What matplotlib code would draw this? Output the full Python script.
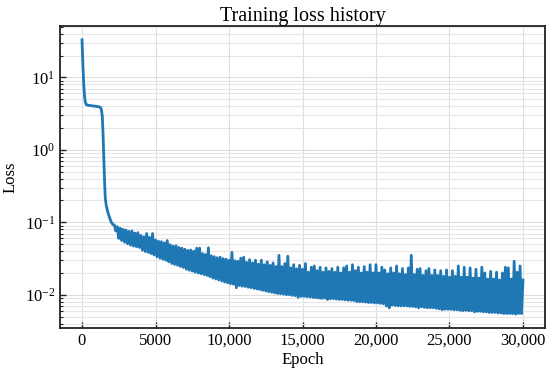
import numpy as np
import matplotlib
matplotlib.use("Agg")
import matplotlib.pyplot as plt
from matplotlib.ticker import LogLocator, NullFormatter

plt.rcParams["font.family"] = ["Liberation Serif", "DejaVu Serif"]
plt.rcParams["mathtext.fontset"] = "stix"
plt.rcParams["path.simplify"] = False

# debut de l'entrainement (descente + plateau)
early_epochs = [0, 30, 70, 120, 170, 220, 280, 350, 500, 700, 900, 1100, 1250, 1320,
                1380, 1430, 1480, 1530, 1580, 1650, 1750, 1850, 1950]
early_loss = [33, 22, 13.5, 8.0, 5.6, 4.6, 4.25, 4.15, 4.1, 4.05, 4.0, 3.95, 3.85, 3.6,
              2.9, 1.7, 0.8, 0.4, 0.22, 0.17, 0.14, 0.12, 0.105]

# bande bruitee, un point tous les 100 epochs (unites de 1e-4)
band_epochs = np.arange(2000, 30001, 100)
band_loss_e4 = [
    1000, 930, 920, 760, 870, 600, 830, 560, 800, 530,
    780, 505, 750, 485, 760, 470, 710, 460, 720, 450,
    660, 415, 630, 395, 700, 385, 620, 370, 700, 355,
    570, 335, 550, 320, 540, 310, 520, 300, 560, 285,
    490, 270, 470, 262, 475, 255, 450, 245, 440, 238,
    425, 225, 410, 218, 415, 212, 400, 205, 440, 200,
    440, 195, 370, 190, 360, 185, 445, 178, 345, 170,
    335, 165, 325, 160, 330, 155, 315, 150, 310, 146,
    300, 142, 385, 140, 295, 125, 290, 134, 320, 131,
    330, 130, 280, 127, 305, 125, 275, 122, 300, 120,
    265, 118, 300, 115, 260, 113, 285, 110, 255, 108,
    275, 106, 245, 104, 350, 103, 245, 102, 270, 100,
    340, 100, 235, 98, 260, 97, 228, 92, 255, 95,
    225, 95, 270, 94, 205, 93, 240, 92, 250, 91,
    215, 90, 240, 89, 205, 90, 235, 86, 210, 88,
    230, 88, 205, 87, 240, 86, 200, 86, 235, 85,
    250, 84, 205, 84, 260, 83, 215, 80, 240, 80,
    200, 80, 245, 79, 205, 78, 260, 78, 200, 77,
    260, 77, 200, 76, 240, 75, 220, 70, 195, 66,
    235, 72, 200, 71, 250, 70, 195, 70, 230, 70,
    190, 70, 235, 69, 350, 69, 190, 68, 225, 66,
    230, 68, 185, 67, 215, 66, 230, 66, 185, 66,
    220, 65, 185, 64, 215, 62, 180, 63, 220, 63,
    175, 63, 215, 62, 180, 62, 250, 61, 175, 60,
    240, 61, 175, 60, 235, 60, 170, 58, 225, 59,
    170, 59, 240, 58, 200, 58, 165, 57, 210, 57,
    165, 57, 205, 56, 160, 56, 200, 55, 240, 55,
    235, 55, 165, 55, 290, 54, 205, 55, 250, 55,
    160,
]

xticks = [0, 5000, 10000, 15000, 20000, 25000, 30000]
xtick_labels = ["0", "5000", "10,000", "15,000", "20,000", "25,000", "30,000"]

epochs = np.concatenate([early_epochs, band_epochs])
loss = np.concatenate([early_loss, np.array(band_loss_e4) * 1e-4])

fig = plt.figure(figsize=(5.5, 3.73), dpi=100)
ax = fig.add_axes([0.109, 0.121, 0.882, 0.809])

ax.plot(epochs, loss, color="#1f77b4", lw=2.0)
ax.set_yscale("log")

ax.set_xticks(xticks)
ax.set_xticklabels(xtick_labels)
ax.yaxis.set_minor_locator(LogLocator(base=10, subs=np.arange(2, 10)))
ax.yaxis.set_minor_formatter(NullFormatter())

ax.grid(True, which="major", color="#dddddd", lw=0.8)
ax.grid(True, which="minor", axis="y", color="#e6e6e6", lw=0.8)
ax.set_axisbelow(True)

ax.tick_params(which="both", direction="in", labelsize=12, colors="#222222")
ax.tick_params(which="major", length=4, width=1)
ax.tick_params(which="minor", length=2, width=0.8)
ax.tick_params(axis="both", labelcolor="black")
for s in ax.spines.values():
    s.set_linewidth(1.3)
    s.set_color("#222222")

ax.set_title("Training loss history", fontsize=14.5, pad=4)
ax.set_xlabel("Epoch", fontsize=12, labelpad=2)
ax.set_ylabel("Loss", fontsize=12)

fig.savefig("out.png", dpi=100)
